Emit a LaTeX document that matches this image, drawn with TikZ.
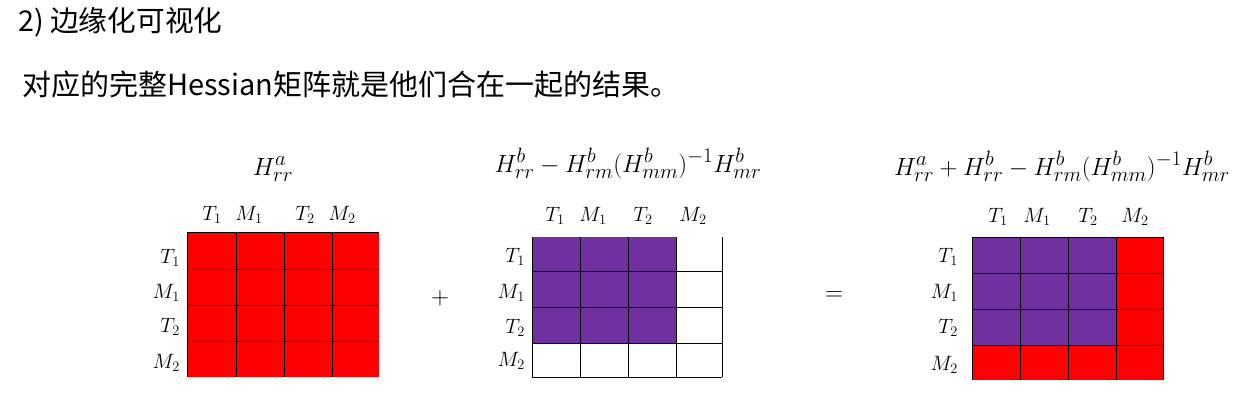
\documentclass[tikz,border=0pt]{standalone}
\usepackage{fontspec}
\newfontfamily\cjk{Noto Sans CJK SC}
\definecolor{hred}{HTML}{FF0000}
\definecolor{hpurple}{HTML}{7030A0}
\tikzset{
  head/.style={anchor=base west, inner sep=0pt, font=\cjk\fontsize{28.7}{32}\selectfont},
  title/.style={anchor=base, inner sep=0pt, font=\fontsize{28.5}{32}\selectfont},
  lab/.style={anchor=base, inner sep=0pt, font=\fontsize{22}{25}\selectfont},
  rlab/.style={anchor=base east, inner sep=0pt, font=\fontsize{22}{25}\selectfont},
  op/.style={inner sep=0pt, font=\fontsize{28}{32}\selectfont},
  gridline/.style={black, line width=1pt},
}
\begin{document}
\begin{tikzpicture}[x=1pt,y=-1pt]
\useasboundingbox (0,0) rectangle (1245,407);
\fill[white] (0,0) rectangle (1245,407);
% headings
\node[head] (h1) at (18,31) {2) 边缘化可视化};
\node[head, font=\cjk\fontsize{29}{33}\selectfont] (h2) at (22,95) {对应的完整Hessian矩阵就是他们合在一起的结果。};

% ---------- matrix 1 ----------
\fill[hred] (187,232) rectangle (379,377);
\foreach \x in {187,236,284,332} \draw[gridline] (\x,232) -- (\x,377);
\foreach \y in {232,269,305,341} \draw[gridline] (187,\y) -- (379,\y);
\node[title] (t1) at (273,175) {$H^a_{rr}$};
\node[lab] (a1c1) at (212,220) {$T_1$};
\node[lab] (a1c2) at (249,220) {$M_1$};
\node[lab] (a1c3) at (305,220) {$T_2$};
\node[lab] (a1c4) at (342,220) {$M_2$};
\node[rlab] (a1r1) at (180,263) {$T_1$};
\node[rlab] (a1r2) at (180,298) {$M_1$};
\node[rlab] (a1r3) at (180,332) {$T_2$};
\node[rlab] (a1r4) at (180,368) {$M_2$};

\node[op] (plus) at (440,298) {$+$};

% ---------- matrix 2 ----------
\fill[hpurple] (532,237) rectangle (676,343);
\foreach \x in {532,580,628,676,722} \draw[gridline] (\x,237) -- (\x,377);
\foreach \y in {271,307,343,377} \draw[gridline] (532,\y) -- (722,\y);
\node[title] (t2) at (628,172) {$H^b_{rr}-H^b_{rm}(H^b_{mm})^{-1}H^b_{mr}$};
\node[lab] (a2c1) at (555,221) {$T_1$};
\node[lab] (a2c2) at (593,221) {$M_1$};
\node[lab] (a2c3) at (643,221) {$T_2$};
\node[lab] (a2c4) at (693,221) {$M_2$};
\node[rlab] (a2r1) at (525,262) {$T_1$};
\node[rlab] (a2r2) at (525,298) {$M_1$};
\node[rlab] (a2r3) at (525,333) {$T_2$};
\node[rlab] (a2r4) at (525,366) {$M_2$};

\node[op] (eq) at (834,296) {$=$};

% ---------- matrix 3 ----------
\fill[hred] (972,237) rectangle (1163,380);
\fill[hpurple] (972,237) rectangle (1116,345);
\foreach \x in {972,1020,1068,1116,1163} \draw[gridline] (\x,237) -- (\x,380);
\foreach \y in {237,273,309,345} \draw[gridline] (972,\y) -- (1163,\y);
\node[title] (t3) at (1062,175) {$H^a_{rr}+H^b_{rr}-H^b_{rm}(H^b_{mm})^{-1}H^b_{mr}$};
\node[lab] (a3c1) at (998,222) {$T_1$};
\node[lab] (a3c2) at (1037,222) {$M_1$};
\node[lab] (a3c3) at (1088,222) {$T_2$};
\node[lab] (a3c4) at (1135,222) {$M_2$};
\node[rlab] (a3r1) at (958,262) {$T_1$};
\node[rlab] (a3r2) at (958,298) {$M_1$};
\node[rlab] (a3r3) at (958,333) {$T_2$};
\node[rlab] (a3r4) at (958,370) {$M_2$};
\end{tikzpicture}
\end{document}
